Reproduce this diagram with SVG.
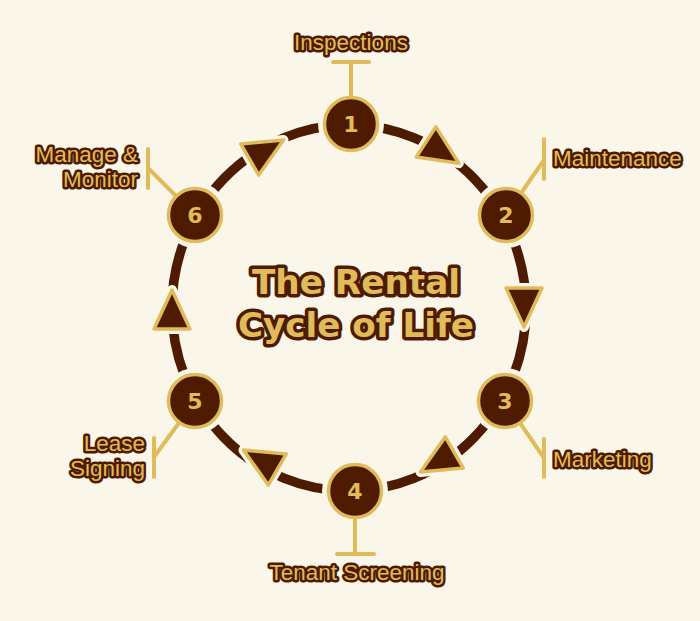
<svg xmlns="http://www.w3.org/2000/svg" xmlns:xlink="http://www.w3.org/1999/xlink" width="700" height="621" viewBox="0 0 700 621">
<style>
.bg{fill:#faf6ea}
.ring{fill:none;stroke:#4e1b00;stroke-width:9.5}
.halo{fill:#faf6ea}
.tri-halo{fill:#faf6ea;stroke:#faf6ea;stroke-width:10;stroke-linejoin:round}
.tri{fill:#4e1b00;stroke:#e0bb5a;stroke-width:3.5;stroke-linejoin:round}
.lead{fill:none;stroke:#e0bb5a;stroke-width:4;stroke-linecap:round}
.node{fill:#4e1b00;stroke:#e0bb5a;stroke-width:3.5}
.num{font-family:"DejaVu Sans","Liberation Sans",sans-serif;font-weight:bold;font-size:22px;fill:#e0bb5a;text-anchor:middle}
.lbl{font-family:"Liberation Sans",Arial,sans-serif;font-size:22.5px;fill:#e0bb5a;stroke:#4e1b00;stroke-width:5;stroke-linejoin:round;paint-order:stroke}
.title{font-family:"DejaVu Sans","Liberation Sans",sans-serif;font-weight:bold;font-size:34px;fill:#e0bb5a;stroke:#4e1b00;stroke-width:7;stroke-linejoin:round;paint-order:stroke;text-anchor:middle}
</style>
<defs>
<polygon id="t" points="0,-26 -18,13 18,13"/>
</defs>
<rect class="bg" x="0" y="0" width="700" height="621"/>
<g id="connectors">
<ellipse class="ring" cx="349" cy="308" rx="177" ry="183"/>
<g id="node-halos">
<circle class="halo" cx="351" cy="124" r="33"/>
<circle class="halo" cx="506" cy="215" r="33"/>
<circle class="halo" cx="505" cy="401" r="33"/>
<circle class="halo" cx="355" cy="491" r="33"/>
<circle class="halo" cx="195" cy="401" r="33"/>
<circle class="halo" cx="195" cy="215" r="33"/>
</g>
<g id="arrows">
<g transform="translate(437,149) rotate(123)"><use xlink:href="#t" class="tri-halo"/><use xlink:href="#t" class="tri"/></g>
<g transform="translate(524,301) rotate(180)"><use xlink:href="#t" class="tri-halo"/><use xlink:href="#t" class="tri"/></g>
<g transform="translate(443,459) rotate(240)"><use xlink:href="#t" class="tri-halo"/><use xlink:href="#t" class="tri"/></g>
<g transform="translate(266,463) rotate(300)"><use xlink:href="#t" class="tri-halo"/><use xlink:href="#t" class="tri"/></g>
<g transform="translate(172,316)"><use xlink:href="#t" class="tri-halo"/><use xlink:href="#t" class="tri"/></g>
<g transform="translate(261,153) rotate(60)"><use xlink:href="#t" class="tri-halo"/><use xlink:href="#t" class="tri"/></g>
</g>
<g id="leaders">
<path class="lead" d="M351,124 V62 M333,62 H369"/>
<path class="lead" d="M506,215 L544,160 M544,139 V179"/>
<path class="lead" d="M505,401 L544,458 M544,439 V477"/>
<path class="lead" d="M355,491 V554 M337,554 H374"/>
<path class="lead" d="M195,401 L154,457 M154,438 V477"/>
<path class="lead" d="M195,215 L148,168 M148,149 V188"/>
</g>
</g>
<g id="node1"><circle class="node" cx="351" cy="124" r="26.5"/><text class="num" x="351" y="132">1</text><text class="lbl" x="351" y="50" text-anchor="middle">Inspections</text></g>
<g id="node2"><circle class="node" cx="506" cy="215" r="26.5"/><text class="num" x="506" y="223">2</text><text class="lbl" x="553" y="166">Maintenance</text></g>
<g id="node3"><circle class="node" cx="505" cy="401" r="26.5"/><text class="num" x="505" y="409">3</text><text class="lbl" x="553" y="467">Marketing</text></g>
<g id="node4"><circle class="node" cx="355" cy="491" r="26.5"/><text class="num" x="355" y="499">4</text><text class="lbl" x="357" y="580" text-anchor="middle">Tenant Screening</text></g>
<g id="node5"><circle class="node" cx="195" cy="401" r="26.5"/><text class="num" x="195" y="409">5</text><text class="lbl" x="145" y="451" text-anchor="end">Lease</text><text class="lbl" x="145" y="476" text-anchor="end">Signing</text></g>
<g id="node6"><circle class="node" cx="195" cy="215" r="26.5"/><text class="num" x="195" y="223">6</text><text class="lbl" x="138" y="162" text-anchor="end">Manage &amp;</text><text class="lbl" x="138" y="187" text-anchor="end">Monitor</text></g>
<g id="title">
<text class="title" x="356" y="294" textLength="208" lengthAdjust="spacingAndGlyphs">The Rental</text>
<text class="title" x="356" y="337" textLength="236" lengthAdjust="spacingAndGlyphs">Cycle of Life</text>
</g>
</svg>
